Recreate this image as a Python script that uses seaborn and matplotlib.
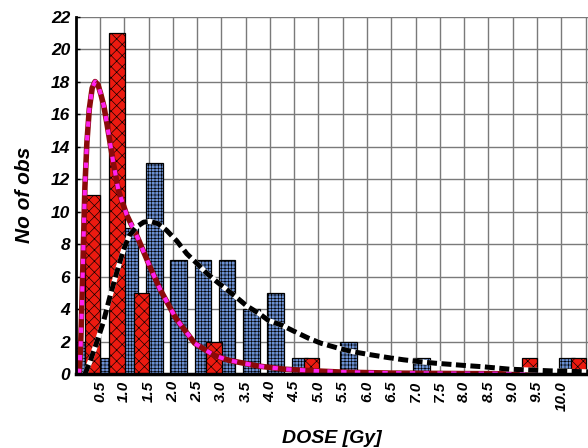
import matplotlib
matplotlib.use("Agg")
import matplotlib.pyplot as plt
import numpy as np
import pandas as pd
import seaborn as sns

# bins of 0.5 Gy, value = bin centre
bin_centers = [0.25, 0.75, 1.25, 1.75, 2.25, 2.75, 3.25, 3.75, 4.25, 4.75, 5.25,
               5.75, 6.25, 6.75, 7.25, 7.75, 8.25, 8.75, 9.25, 9.75, 10.25]
blue_counts = [2, 1, 9, 13, 7, 7, 7, 4, 5, 1, 0, 2, 0, 0, 1, 0, 0, 0, 0, 0, 1]
red_counts = [11, 21, 5, 0, 0, 2, 0, 0, 0, 1, 0, 0, 0, 0, 0, 0, 0, 0, 1, 0, 1]

# fitted curves
black_x = [0.19, 0.3, 0.45, 0.57, 0.70, 0.84, 0.98, 1.1, 1.25, 1.4, 1.53, 1.7, 1.87,
           2.08, 2.29, 2.5, 2.7, 2.9, 3.11, 3.32, 3.52, 3.79, 3.97, 4.25, 4.52, 4.8,
           5.05, 5.4, 5.72, 6.05, 6.4, 6.75, 7.09, 7.4, 7.71, 8.05, 8.39, 8.94, 9.36,
           9.76, 10.14, 10.55]
black_y = [0.0, 0.8, 2.1, 3.2, 4.7, 6.2, 7.6, 8.5, 9.05, 9.35, 9.4, 9.25, 8.85,
           8.2, 7.4, 6.8, 6.2, 5.7, 5.2, 4.7, 4.2, 3.7, 3.3, 3.0, 2.6, 2.2,
           1.9, 1.6, 1.37, 1.2, 1.03, 0.88, 0.76, 0.67, 0.6, 0.52, 0.45, 0.3, 0.25,
           0.2, 0.17, 0.14]
magenta_x = [0.07, 0.10, 0.13, 0.16, 0.19, 0.23, 0.28, 0.34, 0.40, 0.46, 0.52, 0.58,
             0.65, 0.71, 0.77, 0.88, 1.05, 1.29, 1.53, 1.74, 2.07, 2.45, 2.85, 3.15,
             3.75, 4.3, 4.9, 5.5, 6.5, 8.0, 10.55]
magenta_y = [0.0, 1.5, 4.5, 8.0, 11.5, 14.2, 16.3, 17.6, 18.0, 17.8, 17.2, 16.5,
             15.3, 14.2, 13.1, 11.3, 9.8, 8.3, 6.6, 5.2, 3.4, 1.9, 1.15, 0.85,
             0.5, 0.3, 0.2, 0.12, 0.06, 0.03, 0.01]

x_ticks = [0.5, 1.0, 1.5, 2.0, 2.5, 3.0, 3.5, 4.0, 4.5, 5.0, 5.5, 6.0, 6.5, 7.0,
           7.5, 8.0, 8.5, 9.0, 9.5, 10.0, 10.5]
x_labels = ["0.5", "1.0", "1.5", "2.0", "2.5", "3.0", "3.5", "4.0", "4.5", "5.0",
            "5.5", "6.0", "6.5", "7.0", "7.5", "8.0", "8.5", "9.0", "9.5", "10.0", ""]
y_ticks = list(range(0, 23, 2))

sns.set_style("white")
plt.rcParams['font.family'] = ['Liberation Sans', 'DejaVu Sans']
plt.rcParams['hatch.linewidth'] = 0.45
plt.rcParams['text.color'] = 'black'
plt.rcParams['xtick.color'] = 'black'
plt.rcParams['ytick.color'] = 'black'
plt.rcParams['axes.labelcolor'] = 'black'

df = pd.DataFrame({'center': bin_centers, 'blue': blue_counts, 'red': red_counts})
df['blue_x'] = df['center'] - 0.13
df['red_x'] = df['center'] + 0.10

fig = plt.figure(figsize=(5.88, 4.48), dpi=100)
ax = fig.add_axes([0.1287, 0.165, 0.8713, 0.798])

sns.barplot(data=df, x='blue_x', y='blue', native_scale=True, width=0.68,
            color='#6a8fd2', saturation=1, errorbar=None, ax=ax)
n_blue = len(ax.patches)
sns.barplot(data=df, x='red_x', y='red', native_scale=True, width=0.63,
            color='#ec1a10', saturation=1, errorbar=None, ax=ax)
for i, p in enumerate(ax.patches):
    if p.get_height() == 0:
        p.set_visible(False)
    p.set_edgecolor('black')
    p.set_linewidth(0.9)
    p.set_hatch('+++++' if i < n_blue else 'xxx')

# magenta fit: maroon line with magenta dots
sns.lineplot(x=magenta_x, y=magenta_y, color='#8b0a0a', lw=4.0, ax=ax)
sns.lineplot(x=magenta_x, y=magenta_y, color='#ff22ee', lw=3.0,
             linestyle=(0, (1.3, 2.0)), ax=ax)
# black fit: white line with black dashes
sns.lineplot(x=black_x, y=black_y, color='white', lw=3.6, ax=ax)
sns.lineplot(x=black_x, y=black_y, color='black', lw=3.6,
             linestyle=(0, (2.0, 0.9)), ax=ax)

ax.set_xlim(0, 10.55)
ax.set_ylim(0, 22)
ax.set_xticks(x_ticks)
ax.set_xticklabels(x_labels, rotation=90, fontsize=11, fontweight='bold', fontstyle='italic')
ax.set_yticks(y_ticks)
ax.set_yticklabels([str(v) for v in y_ticks], fontsize=12.5, fontweight='bold', fontstyle='italic')
ax.tick_params(axis='x', length=0, pad=5)
ax.tick_params(axis='y', direction='in', length=3, width=1, pad=4, left=True)
ax.grid(True, color='#7a7a7a', lw=1)
ax.set_axisbelow(True)

for s in ['top', 'right']:
    ax.spines[s].set_visible(False)
ax.spines['left'].set_linewidth(2)
ax.spines['left'].set_color('black')
ax.spines['bottom'].set_linewidth(2.5)
ax.spines['bottom'].set_color('black')

ax.set_xlabel('DOSE [Gy]', fontsize=14, fontweight='bold', fontstyle='italic', labelpad=14)
ax.set_ylabel('No of obs', fontsize=15, fontweight='bold', fontstyle='italic', labelpad=12)

fig.savefig('out.png', dpi=100)
